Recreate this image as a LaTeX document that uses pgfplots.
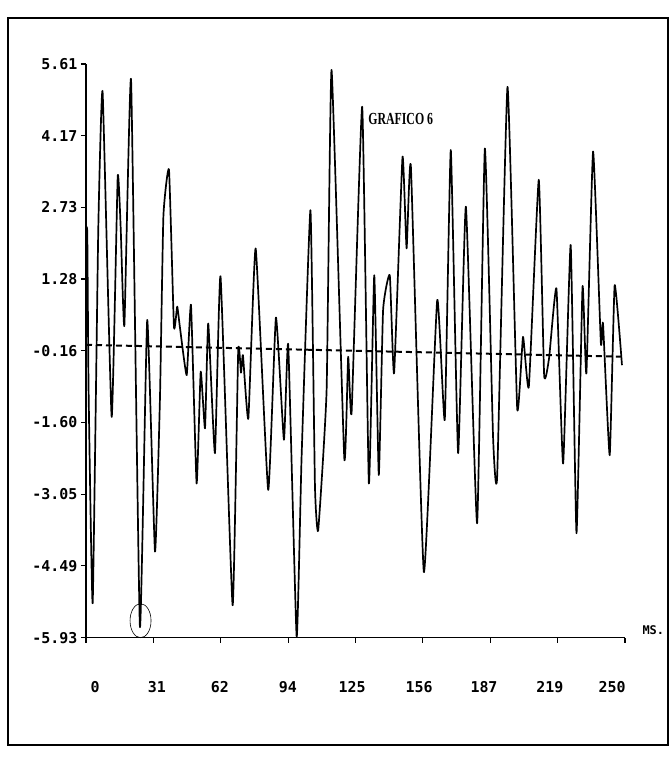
\documentclass[border=0pt]{standalone}
\usepackage{fontspec}
\usepackage{graphicx}
\usepackage{pgfplots}
\pgfplotsset{compat=1.18}
\newfontfamily\tickfamily{DejaVu Sans Mono}
\newfontfamily\titlefamily{Liberation Serif}
\newcommand\tf{\tickfamily\bfseries\fontsize{15}{15}\selectfont}
\newcommand\msf{\tickfamily\bfseries\fontsize{12}{12}\selectfont}
\begin{document}
\begin{tikzpicture}
\begin{axis}[
  at={(0,0)}, anchor=south west,
  scale only axis, width=539bp, height=573.6bp,
  xmin=0, xmax=250, ymin=-5.93, ymax=5.61,
  enlargelimits=false, clip=false,
  axis x line=bottom, axis y line=left,
  axis line style={-, line width=1.5pt},
  tick align=outside, major tick length=5bp,
  tick style={line width=1.2pt, black},
  xtick={0,31.25,62.5,93.75,125,156.25,187.5,218.75,250},
  xticklabels={},
  extra x ticks={4.2,32.9,62.1,93.6,123.4,154.5,184.6,215.2,244.0},
  extra x tick labels={0,31,62,94,125,156,187,219,250},
  extra x tick style={major tick length=0pt, xticklabel style={yshift=-40bp}},
  ytick={-5.93,-4.4875,-3.045,-1.6025,-0.16,1.2825,2.725,4.1675,5.61},
  yticklabels={-5.93,-4.49,-3.05,-1.60,-0.16,1.28,2.73,4.17,5.61},
  yticklabel style={font=\tf},
  xticklabel style={font=\tf},
]
\addplot[black, line width=2pt, dash pattern=on 6bp off 4bp] coordinates {(0,-0.04) (250,-0.28)};
\addplot[black, line width=1.7pt, line join=round, smooth, tension=0.25] coordinates {
(0,2.30) (0.6,2.2) (1.2,-0.95) (3.1,-5.24) (5.7,2.3) (7.7,5.05) (11.9,-1.49)
(14.7,3.34) (16.1,2.30) (17.8,0.35) (20.9,5.29) (25.0,-5.71) (28.4,0.46)
(32.0,-4.20) (34.3,-1.12) (35.9,2.55) (38.5,3.48) (40.8,0.32) (42.3,0.73)
(43.6,0.3) (46.7,-0.65) (48.7,0.76) (51.3,-2.83) (53.2,-0.58) (55.2,-1.72)
(56.7,0.39) (59.8,-2.22) (62.4,1.34) (68.0,-5.28) (70.6,-0.15) (71.9,-0.60)
(72.8,-0.25) (75.3,-1.52) (78.7,1.90) (84.5,-2.96) (88.1,0.51) (91.8,-1.95)
(93.8,-0.04) (97.7,-5.91) (100.0,-2.29) (104.1,2.67) (106.2,-2.89) (107.7,-3.77)
(111.6,-0.95) (113.9,5.49) (119.8,-2.32) (121.6,-0.28) (123.2,-1.39) (128.1,4.75)
(131.2,-2.83) (133.7,1.36) (135.8,-2.66) (137.8,0.66) (140.9,1.36) (142.9,-0.61)
(146.8,3.74) (148.7,1.90) (150.7,3.54) (156.7,-4.61) (162.9,0.86) (166.4,-1.55)
(169.2,3.88) (172.6,-2.22) (176.2,2.74) (181.4,-3.63) (185.0,3.91) (188.8,-1.89)
(190.7,-2.69) (195.5,5.15) (200.0,-1.32) (202.7,0.12) (205.4,-0.88) (210.0,3.28)
(212.5,-0.65) (214.8,-0.3) (218.2,1.09) (221.3,-2.43) (224.8,1.97) (227.5,-3.83)
(230.3,1.13) (232.1,-0.61) (235.2,3.85) (238.8,0.0) (239.8,0.39) (242.9,-2.26)
(245.2,1.16) (248.6,-0.45)
};
\node[anchor=west, font=\titlefamily\bfseries\fontsize{17}{17}\selectfont] at (axis cs:129.3,4.51) {\scalebox{0.7}[1]{GRAFICO 6}};
\draw[line width=0.6pt] (axis cs:25.3,-5.59) ellipse [x radius=10.5bp, y radius=17bp];
\node[anchor=west, font=\msf] at (axis cs:250,-5.93) [xshift=14bp, yshift=7bp] {MS.};
\end{axis}
\draw[line width=1.2pt] (-78bp,-107.4bp) rectangle (582bp,619.6bp);
\pgfresetboundingbox
\useasboundingbox (-86bp,-122.4bp) rectangle (586bp,637.6bp);
\end{tikzpicture}
\end{document}
